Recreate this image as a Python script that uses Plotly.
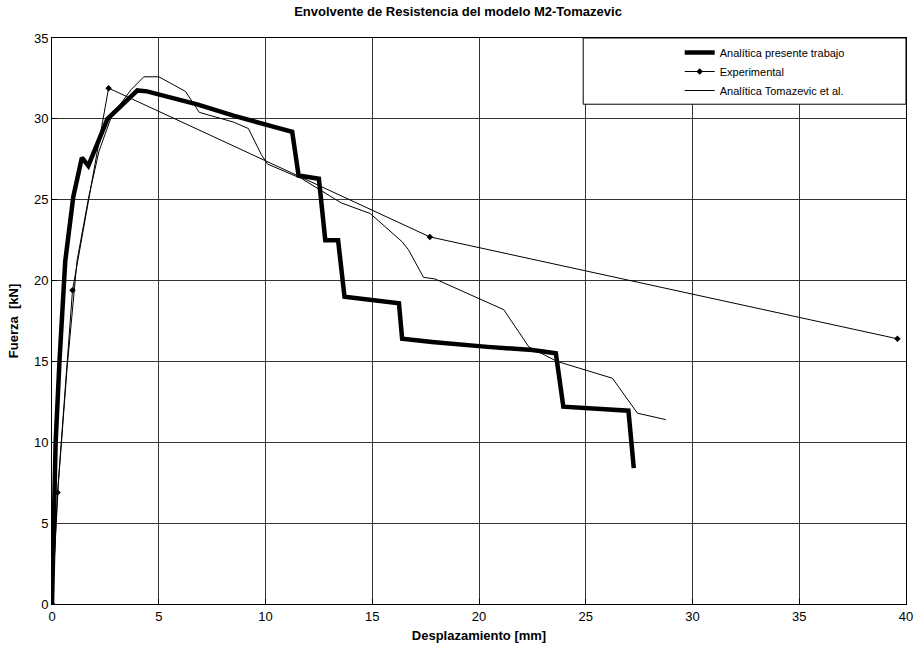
import plotly.graph_objects as go

# Analítica presente trabajo (thick line)
x_analitica = [0, 0.17, 0.35, 0.62, 1.0, 1.4, 1.7, 2.6, 4.0, 4.45, 6.8, 8.5, 10.4, 11.25,
               11.55, 12.5, 12.8, 13.4, 13.7, 16.25, 16.4, 17.8, 20.4, 22.5, 23.6,
               23.95, 27.0, 27.25]
y_analitica = [0, 10.0, 15.0, 21.2, 25.2, 27.6, 27.1, 30.0, 31.76, 31.7, 30.9, 30.2, 29.5, 29.2,
               26.5, 26.3, 22.5, 22.5, 19.0, 18.6, 16.4, 16.2, 15.9, 15.7, 15.5,
               12.2, 11.95, 8.4]

# Experimental (thin line with markers)
x_experimental = [0, 0.26, 0.96, 2.65, 17.7, 39.6]
y_experimental = [0, 6.9, 19.4, 31.9, 22.7, 16.4]

# Analítica Tomazevic et al. (thin line)
x_tomazevic = [0, 0.3, 0.7, 1.17, 1.71, 2.2, 2.8, 3.7, 4.3, 5.0, 6.25, 6.9, 8.5, 9.2, 9.8,
               10.1, 11.7, 13.55, 14.9, 16.4, 16.7, 17.4, 17.94, 21.16, 22.33, 23.66,
               26.25, 27.42, 28.75]
y_tomazevic = [0, 7.5, 14.5, 21.2, 25.1, 28.0, 30.2, 31.8, 32.6, 32.6, 31.7, 30.4, 29.8, 29.4, 27.8,
               27.2, 26.3, 24.8, 24.15, 22.4, 21.9, 20.2, 20.1, 18.2, 15.9, 15.0,
               13.96, 11.8, 11.4]

x_ticks = [0, 5, 10, 15, 20, 25, 30, 35, 40]
y_ticks = [0, 5, 10, 15, 20, 25, 30, 35]

font_family = "Liberation Sans, Arial, sans-serif"

fig = go.Figure()
fig.add_trace(go.Scatter(x=x_analitica, y=y_analitica, mode="lines",
                         name="Analítica presente trabajo",
                         line=dict(color="black", width=4.5)))
fig.add_trace(go.Scatter(x=x_experimental, y=y_experimental, mode="lines+markers",
                         name="Experimental",
                         line=dict(color="black", width=1),
                         marker=dict(symbol="diamond", size=5, color="black")))
fig.add_trace(go.Scatter(x=x_tomazevic, y=y_tomazevic, mode="lines",
                         name="Analítica Tomazevic et al.",
                         line=dict(color="black", width=1)))

axis_common = dict(
    showgrid=True, gridcolor="#333333", gridwidth=1,
    zeroline=False, showline=True, linecolor="black", linewidth=1, mirror=True,
    ticks="inside", ticklen=5, tickcolor="black", automargin=False,
    tickfont=dict(family=font_family, size=13, color="black"),
)

fig.update_layout(
    width=916, height=645,
    margin=dict(l=52, r=10, t=38, b=41),
    paper_bgcolor="white", plot_bgcolor="white",
    title=dict(text="<b>Envolvente de Resistencia del modelo M2-Tomazevic</b>",
               x=0.5, xanchor="center", y=0.982, yanchor="middle",
               font=dict(family=font_family, size=13, color="black")),
    xaxis=dict(range=[0, 40], tickvals=x_ticks, ticktext=[str(v) for v in x_ticks],
               title=dict(text="<b>Desplazamiento [mm]</b>", standoff=8,
                          font=dict(family=font_family, size=13, color="black")),
               **axis_common),
    yaxis=dict(range=[0, 35], tickvals=y_ticks, ticktext=[str(v) for v in y_ticks],
               title=dict(text="<b>Fuerza  [kN]</b>", standoff=12,
                          font=dict(family=font_family, size=13, color="black")),
               **axis_common),
    legend=dict(x=0.735, y=1.0, xanchor="left", yanchor="top",
                bgcolor="rgba(0,0,0,0)", borderwidth=0,
                font=dict(family=font_family, size=11, color="black"),
                itemwidth=30, tracegroupgap=0),
    showlegend=True,
    shapes=[dict(type="rect", xref="paper", yref="paper",
                 x0=0.622, x1=1.0, y0=0.883, y1=1.0,
                 line=dict(color="black", width=1), fillcolor="white", layer="above")],
)

fig.write_html("out.html")
